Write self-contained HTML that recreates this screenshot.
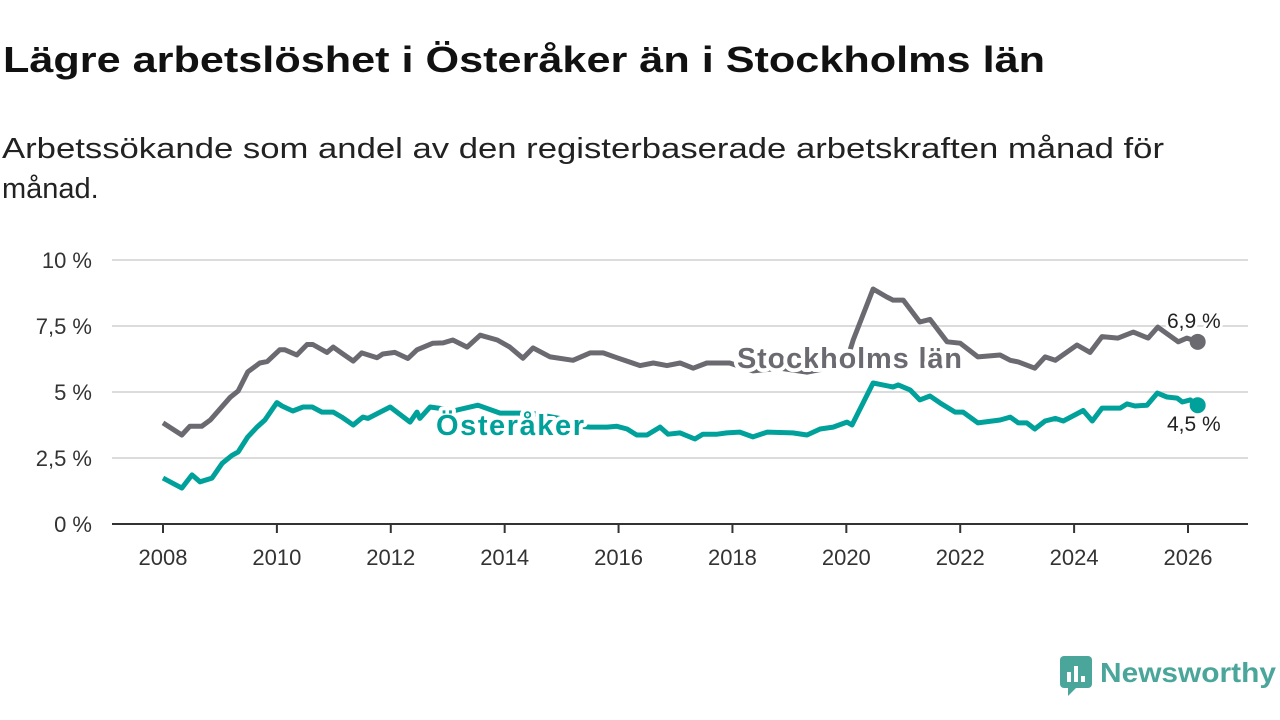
<!DOCTYPE html>
<html><head><meta charset="utf-8"><style>
html,body{margin:0;padding:0;background:#fff;}
svg{display:block;font-family:"Liberation Sans",sans-serif;}
</style></head><body>
<svg id="chart" width="1280" height="720" viewBox="0 0 1280 720">
<text x="3" y="72" font-size="36" font-weight="bold" fill="#111" textLength="1042" lengthAdjust="spacingAndGlyphs">Lägre arbetslöshet i Österåker än i Stockholms län</text>
<text x="2" y="158" font-size="29" fill="#222" textLength="1162" lengthAdjust="spacingAndGlyphs">Arbetssökande som andel av den registerbaserade arbetskraften månad för</text>
<text x="2" y="198" font-size="29" fill="#222">månad.</text>
<g id="grid"></g><g id="axes"></g><g id="series"></g><g id="labels"></g>
<g>
<rect x="1060" y="656" width="32" height="32" rx="4" fill="#4aa59a"/>
<path d="M1068 688 L1068 696 L1076 688 Z" fill="#4aa59a"/>
<rect x="1067" y="672" width="4" height="10" fill="#fff"/><rect x="1074" y="666" width="4" height="16" fill="#fff"/><rect x="1081" y="676" width="4" height="6" fill="#fff"/>
<text x="1100" y="682" font-size="28" font-weight="bold" fill="#4aa59a" textLength="176" lengthAdjust="spacingAndGlyphs">Newsworthy</text>
</g>
</svg>
<script>
const yTicks=[0,2.5,5,7.5,10];
const yTickLabels=["0 %","2,5 %","5 %","7,5 %","10 %"];
const xTicks=[2008,2010,2012,2014,2016,2018,2020,2022,2024,2026];
const sthYears=[2008.0,2008.33,2008.47,2008.68,2008.83,2009.18,2009.32,2009.49,2009.70,2009.83,2010.05,2010.14,2010.35,2010.53,2010.63,2010.88,2010.99,2011.14,2011.34,2011.49,2011.76,2011.86,2012.07,2012.30,2012.46,2012.74,2012.92,2013.09,2013.34,2013.57,2013.87,2014.09,2014.32,2014.50,2014.80,2015.20,2015.50,2015.73,2015.97,2016.38,2016.61,2016.85,2017.08,2017.31,2017.55,2017.95,2018.36,2018.83,2019.31,2019.54,2019.98,2020.12,2020.47,2020.71,2020.82,2021.00,2021.29,2021.47,2021.77,2022.00,2022.31,2022.70,2022.88,2023.02,2023.31,2023.49,2023.67,2024.05,2024.28,2024.49,2024.77,2025.04,2025.30,2025.47,2025.83,2025.98,2026.17];
const sthValues=[3.83,3.37,3.7,3.7,3.94,4.8,5.04,5.76,6.1,6.15,6.6,6.6,6.4,6.8,6.8,6.5,6.7,6.47,6.17,6.48,6.3,6.44,6.5,6.27,6.6,6.85,6.86,6.97,6.7,7.15,6.97,6.7,6.28,6.67,6.33,6.2,6.48,6.48,6.3,6.0,6.1,6.0,6.1,5.9,6.1,6.1,5.8,5.9,5.75,5.85,6.0,6.97,8.9,8.6,8.48,8.48,7.65,7.75,6.9,6.85,6.33,6.4,6.2,6.14,5.9,6.33,6.2,6.78,6.5,7.1,7.04,7.27,7.04,7.46,6.9,7.04,6.9];
const ostYears=[2008.0,2008.33,2008.51,2008.65,2008.86,2009.04,2009.21,2009.32,2009.49,2009.65,2009.79,2010.0,2010.09,2010.28,2010.46,2010.62,2010.79,2010.99,2011.14,2011.34,2011.51,2011.60,2011.99,2012.34,2012.46,2012.51,2012.69,2013.13,2013.53,2013.92,2014.45,2014.97,2015.32,2015.5,2015.80,2015.97,2016.15,2016.32,2016.50,2016.73,2016.87,2017.08,2017.34,2017.48,2017.73,2017.90,2018.13,2018.36,2018.61,2019.06,2019.31,2019.54,2019.77,2020.01,2020.10,2020.47,2020.64,2020.82,2020.91,2021.12,2021.29,2021.47,2021.65,2021.91,2022.05,2022.31,2022.70,2022.88,2023.02,2023.17,2023.31,2023.49,2023.67,2023.81,2024.16,2024.32,2024.49,2024.81,2024.93,2025.07,2025.28,2025.46,2025.63,2025.81,2025.90,2026.04,2026.17];
const ostValues=[1.74,1.36,1.86,1.6,1.74,2.3,2.6,2.73,3.3,3.67,3.94,4.6,4.47,4.28,4.43,4.43,4.24,4.24,4.05,3.75,4.05,4.0,4.43,3.86,4.24,4.0,4.43,4.3,4.5,4.2,4.2,4.0,3.7,3.67,3.67,3.7,3.6,3.37,3.37,3.67,3.4,3.45,3.22,3.4,3.4,3.45,3.48,3.3,3.48,3.45,3.37,3.6,3.67,3.86,3.75,5.34,5.27,5.19,5.27,5.08,4.7,4.85,4.58,4.24,4.24,3.83,3.94,4.05,3.83,3.83,3.6,3.9,4.0,3.9,4.3,3.9,4.39,4.39,4.55,4.47,4.5,4.96,4.81,4.77,4.62,4.7,4.5];
const endLabels=["6,9 %","4,5 %"];

const NS="http://www.w3.org/2000/svg";
const xs=y=>163+(y-2008)*(1188-163)/18;
const ys=v=>524-v*26.4;
function mk(tag,attrs,parent){const e=document.createElementNS(NS,tag);for(const k in attrs)e.setAttribute(k,attrs[k]);parent.appendChild(e);return e;}
const grid=document.getElementById('grid'),axes=document.getElementById('axes'),series=document.getElementById('series'),labels=document.getElementById('labels');
yTicks.forEach((t,i)=>{
  if(t>0){const l=mk('line',{x1:112,x2:1248,y1:ys(t),y2:ys(t),stroke:'#dcdcdc','stroke-width':2},grid);
  
  }
  const tx=mk('text',{x:92,y:ys(t)+8,'text-anchor':'end','font-size':22,fill:'#333'},axes);
  tx.textContent=yTickLabels[i];
  
  
});
const ax=mk('line',{x1:112,x2:1248,y1:524,y2:524,stroke:'#333','stroke-width':2},axes);


xTicks.forEach(t=>{
  const tk=mk('line',{x1:xs(t),x2:xs(t),y1:524,y2:533,stroke:'#333','stroke-width':2},axes);
  
  
  const tx=mk('text',{x:xs(t),y:565,'text-anchor':'middle','font-size':22,fill:'#333'},axes);
  tx.textContent=t;
  
  
});
function line(yrs,vals,color,name){
  const d=yrs.map((y,i)=>(i?'L':'M')+xs(y).toFixed(1)+' '+ys(vals[i]).toFixed(1)).join(' ');
  const p=mk('path',{d:d,fill:'none',stroke:color,'stroke-width':5,'stroke-linejoin':'round'},series);
  
  
  const n=yrs.length-1;
  const c=mk('circle',{cx:xs(yrs[n]),cy:ys(vals[n]),r:8,fill:color},series);
  
  
}
line(sthYears,sthValues,'#6b6a70','stockholm');
line(ostYears,ostValues,'#00a19a','osteraker');
function lab(x,y,txt,col,name,size,bold){
  const t=mk('text',{x:x,y:y,'font-size':size,'font-weight':bold?'bold':'normal',fill:col,stroke:'#fff','stroke-width':bold?8:6,'paint-order':'stroke','stroke-linejoin':'round'},labels);
  t.textContent=txt;
  
  
  return t;
}
lab(737,368,'Stockholms län','#6b6a70','stockholm-series-label',29,true).setAttribute('textLength','225');
lab(436,435,'Österåker','#00a19a','osteraker-series-label',29,true).setAttribute('textLength','148');
lab(1167,328,endLabels[0],'#222','stockholm-end-value',21,false);
lab(1167,431,endLabels[1],'#222','osteraker-end-value',21,false);
</script>
</body></html>
